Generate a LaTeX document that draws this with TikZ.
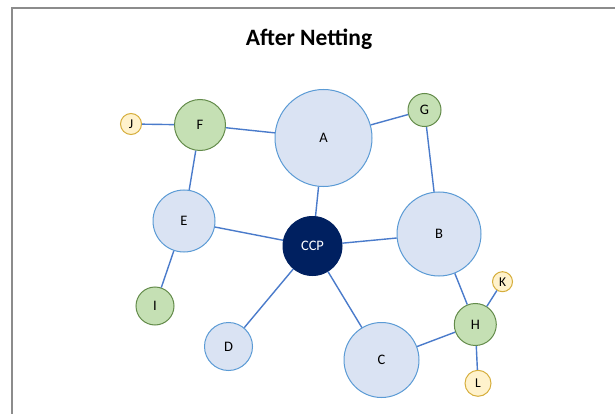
\documentclass[tikz,border=0pt]{standalone}
\usepackage{fontspec}
\setmainfont{Carlito}
\definecolor{bfill}{HTML}{DAE3F3}
\definecolor{bline}{HTML}{5B9BD5}
\definecolor{gfill}{HTML}{C5E0B4}
\definecolor{gline}{HTML}{638B4A}
\definecolor{yfill}{HTML}{FFF2CC}
\definecolor{yline}{HTML}{D6AE3C}
\definecolor{navy}{HTML}{002060}
\definecolor{edgec}{HTML}{4A7BCB}
\definecolor{framec}{HTML}{8C8C8C}
\tikzset{
  nd/.style={circle, inner sep=0pt, line width=1pt, font=\fontsize{14.5}{14.5}\selectfont},
  bnode/.style={nd, fill=bfill, draw=bline},
  gnode/.style={nd, fill=gfill, draw=gline},
  ynode/.style={nd, fill=yfill, draw=yline, font=\fontsize{13.5}{13.5}\selectfont},
  cnode/.style={nd, fill=navy, draw=navy, text=white},
  link/.style={draw=edgec, line width=1.4pt}
}
\begin{document}
\begin{tikzpicture}[x=1pt,y=-1pt]
\useasboundingbox (0,0) rectangle (615,414);
\fill[white] (0,0) rectangle (615,414);
\draw[framec, line width=1.5pt] (12,430) -- (12,8) -- (630,8);
\node[font=\bfseries\fontsize{23.5}{23.5}\selectfont] (title) at (309,39) {After Netting};
\node[bnode, minimum size=97pt] (A) at (323.5,138) {A};
\node[bnode, minimum size=84pt] (B) at (439,234) {B};
\node[bnode, minimum size=75pt] (C) at (381.5,360) {C};
\node[bnode, minimum size=48pt] (D) at (228.5,346.5) {D};
\node[bnode, minimum size=62pt] (E) at (184,221) {E};
\node[cnode, minimum size=59pt] (CCP) at (312.5,246) {CCP};
\node[gnode, minimum size=51pt] (F) at (200,125) {F};
\node[gnode, minimum size=33pt] (G) at (424.5,110) {G};
\node[gnode, minimum size=42pt] (H) at (475.3,324.5) {H};
\node[gnode, minimum size=38pt] (I) at (155,306) {I};
\node[ynode, minimum size=21pt] (J) at (131,124) {J};
\node[ynode, minimum size=20pt] (K) at (502.5,281.7) {K};
\node[ynode, minimum size=26pt] (L) at (478,383.3) {L};
\draw[link] (J) -- (F);
\draw[link] (F) -- (A);
\draw[link] (F) -- (E);
\draw[link] (A) -- (G);
\draw[link] (A) -- (CCP);
\draw[link] (G) -- (B);
\draw[link] (E) -- (CCP);
\draw[link] (E) -- (I);
\draw[link] (CCP) -- (B);
\draw[link] (CCP) -- (D);
\draw[link] (CCP) -- (C);
\draw[link] (C) -- (H);
\draw[link] (B) -- (H);
\draw[link] (H) -- (K);
\draw[link] (H) -- (L);
\end{tikzpicture}
\end{document}
